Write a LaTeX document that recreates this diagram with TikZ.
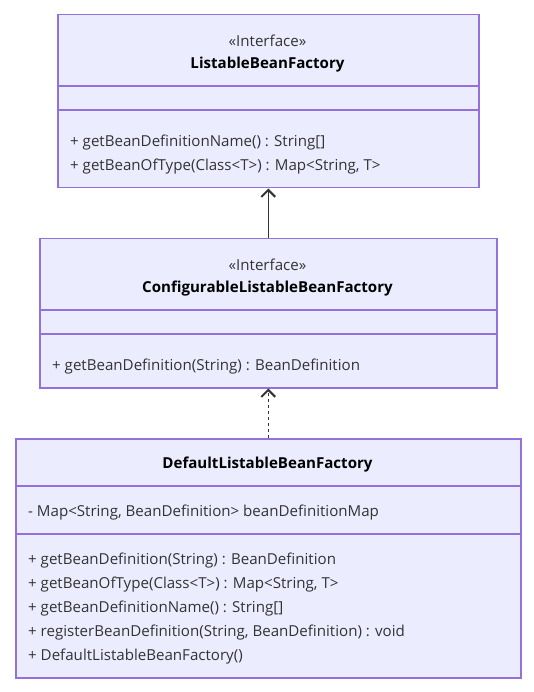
\documentclass[tikz,border=0pt]{standalone}
\usepackage{fontspec}
\setmainfont{Open Sans}
\usetikzlibrary{arrows.meta}
\definecolor{boxfill}{HTML}{ECECFF}
\definecolor{boxline}{HTML}{9370DB}
\definecolor{ink}{HTML}{333333}
\begin{document}
\begin{tikzpicture}[x=1pt,y=-1pt,
	classbox/.style={draw=boxline,fill=boxfill,line width=1.5pt,anchor=north west,inner sep=0pt},
	txt/.style={text=ink,inner sep=0pt,font=\fontsize{15.1}{24}\selectfont},
	member/.style={txt,anchor=west,align=left},
	link/.style={draw=ink,line width=1.2pt,-{Straight Barb[length=7pt,width=14pt,line width=2pt]}}]
			\useasboundingbox (0,0) rectangle (533,692);
			% ListableBeanFactory
			\node[classbox,minimum width=421pt,minimum height=173pt] (lbf) at (57,14) {};
			\draw[boxline,line width=1.5pt] (lbf.west |- 0,86) -- (lbf.east |- 0,86);
			\draw[boxline,line width=1.5pt] (lbf.west |- 0,110) -- (lbf.east |- 0,110);
			\node[txt] (lbfst) at (267.5,40.5) {«Interface»};
			\node[txt,font=\fontsize{15.1}{24}\selectfont\bfseries,text=black] (lbfname) at (267.5,64.5) {ListableBeanFactory};
			\node[member] (lbfops) at (70,154.5) {+ getBeanDefinitionName() : String[]\\+ getBeanOfType(Class<T>) : Map<String, T>};
			% ConfigurableListableBeanFactory
			\node[classbox,minimum width=457pt,minimum height=149pt] (cbf) at (39,238) {};
			\draw[boxline,line width=1.5pt] (cbf.west |- 0,310) -- (cbf.east |- 0,310);
			\draw[boxline,line width=1.5pt] (cbf.west |- 0,334) -- (cbf.east |- 0,334);
			\node[txt] (cbfst) at (267.5,264.5) {«Interface»};
			\node[txt,font=\fontsize{15.1}{24}\selectfont\bfseries,text=black] (cbfname) at (267.5,288.5) {ConfigurableListableBeanFactory};
			\node[member] (cbfops) at (52,366.5) {+ getBeanDefinition(String) : BeanDefinition};
			% DefaultListableBeanFactory
			\node[classbox,minimum width=505pt,minimum height=239pt] (dbf) at (15,438) {};
			\draw[boxline,line width=1.5pt] (dbf.west |- 0,486) -- (dbf.east |- 0,486);
			\draw[boxline,line width=1.5pt] (dbf.west |- 0,534) -- (dbf.east |- 0,534);
			\node[txt,font=\fontsize{15.1}{24}\selectfont\bfseries,text=black] (dbfname) at (267.5,464.5) {DefaultListableBeanFactory};
			\node[member] (dbfattr) at (28,512.5) {- Map<String, BeanDefinition> beanDefinitionMap};
			\node[member] (dbfops) at (28,608.5) {+ getBeanDefinition(String) : BeanDefinition\\+ getBeanOfType(Class<T>) : Map<String, T>\\+ getBeanDefinitionName() : String[]\\+ registerBeanDefinition(String, BeanDefinition) : void\\+ DefaultListableBeanFactory()};
			% relations
			\draw[link] (cbf.north) -- (lbf.south);
			\draw[link,dashed] (dbf.north) -- (cbf.south);
\end{tikzpicture}
\end{document}
